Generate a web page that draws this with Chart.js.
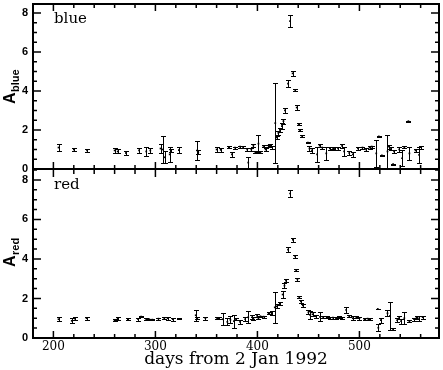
<!DOCTYPE html>
<html><head><meta charset="utf-8">
<script src="https://cdn.jsdelivr.net/npm/chart.js@4"></script>
<style>
html,body{margin:0;padding:0;background:#fff;}
#wrap{position:relative;width:443px;height:370px;background:#fff;}
canvas{position:absolute;left:0;top:0;}
</style></head><body>
<div id="wrap">
<canvas id="cTop" width="443" height="370"></canvas>
<canvas id="cBot" width="443" height="370"></canvas>
</div>
<script>
// ---------- data ----------
const blueDays = [205,220,233,260,263,271,284,291,295,305,307,309,314,315,323,341,342,360,364,372,375,378,383,386,390,391,394,396,398,401,403,406,408,411,412,414,417.5,419,420.5,422,424,425.5,427,430,432,434.5,437,438.5,440.5,441.5,443.5,449.5,451,453.5,458.5,461,463.5,467.5,471,474,476,479,483,485,490,493.5,498.5,503,506.5,510,512,516.5,519,522,527.5,528.5,531,533,534,539,541.8,544,548,549,555,558.5,560.5];
const blueVals = [1.10,1.00,0.95,0.95,0.90,0.82,0.95,0.90,0.95,1.05,1.00,0.60,0.75,0.95,0.97,0.95,0.85,1.00,0.98,1.12,0.75,1.10,1.15,1.12,1.00,0.33,1.00,1.20,0.85,1.30,0.88,1.18,1.00,1.20,1.22,1.12,2.35,1.62,1.85,2.00,2.20,2.45,3.00,4.37,7.58,4.90,4.05,3.15,2.30,2.00,1.70,1.35,1.05,0.95,0.75,1.20,1.10,0.80,1.05,1.08,1.05,1.05,1.18,0.90,0.82,0.75,1.05,1.10,1.00,1.10,1.15,0.80,1.67,0.70,0.90,1.15,1.05,0.25,0.90,1.00,0.55,1.12,2.45,0.80,0.95,0.72,1.12];
const blueErrs = [0.20,0.10,0.08,0.12,0.10,0.12,0.12,0.25,0.12,0.25,0.70,0.30,0.38,0.10,0.17,0.50,0.10,0.12,0.10,0.06,0.13,0.05,0.05,0.04,0.06,0.30,0.10,0.06,0.05,0.42,0.05,0.06,0.10,0.05,0.05,0.08,2.05,0.08,0.10,0.12,0.15,0.12,0.12,0.17,0.30,0.13,0.05,0.15,0.04,0.06,0.06,0.04,0.15,0.12,0.38,0.06,0.05,0.33,0.08,0.05,0.06,0.08,0.08,0.25,0.10,0.13,0.08,0.05,0.08,0.10,0.05,0.70,0.02,0.02,0.86,0.10,0.10,0.02,0.06,0.12,0.40,0.06,0.02,0.33,0.10,0.40,0.08];

const redDays = [205,218,221,232.5,260,263,273,283,286,291,294,297,303,308.7,312,317,323,339.5,341,349,360.5,362,366,370.5,373.5,377,379,383,388,391,394.7,396,399.7,401,403,406,411,414,417,419,422,424.7,426.5,428,430,432,434.7,437,438,439.2,441,442.6,444.5,450,451.6,454,457,461.4,464.5,468,471,474,477,480,483,487,490,493.5,497,500,505,508,510,518,518.5,521,527.5,530,533,537,539,540.8,544,549,553.5,556,558.5,562];
const redVals = [0.95,0.87,0.98,1.00,0.90,0.97,0.95,0.95,1.08,0.95,0.95,0.93,0.98,1.00,1.00,0.95,0.97,1.15,1.00,1.00,1.00,1.00,0.95,0.82,0.92,0.85,0.95,0.82,0.95,1.05,1.05,1.00,1.12,1.00,1.10,1.08,1.25,1.25,1.55,1.60,1.75,2.20,2.65,2.90,4.47,7.31,4.97,4.13,3.43,2.97,2.07,1.85,1.65,1.30,1.17,1.20,1.10,1.07,1.05,1.05,1.02,1.03,1.00,1.05,1.02,1.42,1.10,1.00,1.05,1.00,0.95,0.98,0.95,1.47,0.52,0.90,1.25,1.12,0.45,0.90,1.05,0.85,1.00,0.85,0.95,1.05,1.00,1.05];
const redErrs = [0.10,0.12,0.07,0.07,0.06,0.07,0.05,0.07,0.03,0.04,0.03,0.03,0.05,0.05,0.08,0.07,0.03,0.27,0.06,0.07,0.04,0.05,0.30,0.17,0.17,0.33,0.05,0.10,0.10,0.30,0.10,0.08,0.07,0.05,0.03,0.05,0.05,0.10,0.80,0.10,0.06,0.17,0.13,0.09,0.14,0.17,0.09,0.08,0.06,0.07,0.07,0.08,0.08,0.10,0.20,0.10,0.08,0.23,0.04,0.05,0.04,0.05,0.05,0.05,0.05,0.17,0.05,0.10,0.05,0.07,0.05,0.05,0.05,0.02,0.19,0.12,0.15,0.72,0.05,0.10,0.08,0.12,0.30,0.05,0.07,0.08,0.12,0.07];

const xTickValues = [200, 300, 400, 500];
const yTickValues = [0, 2, 4, 6, 8];
const xMin = 180, xMax = 578;
const xMinorStep = 20, xMajorStep = 100;
const yMinorStep = 0.5, yMajorStep = 2;
const panelLabels = ['blue', 'red'];
const xTitle = 'days from 2 Jan 1992';

// ---------- plugins ----------
function seg(ctx, x1, y1, x2, y2) { ctx.moveTo(x1, y1); ctx.lineTo(x2, y2); }

const errorBars = {
  id: 'errorBars',
  beforeDatasetsDraw(chart) {
    const {ctx, chartArea: a, scales: {x, y}} = chart;
    ctx.save();
    ctx.beginPath(); ctx.rect(a.left, a.top, a.right - a.left, a.bottom - a.top); ctx.clip();
    ctx.strokeStyle = '#000'; ctx.lineWidth = 1;
    ctx.beginPath();
    chart.data.datasets[0].data.forEach(p => {
      const px = Math.round(x.getPixelForValue(p.x)) + 0.5;
      const y1 = Math.round(y.getPixelForValue(p.y - p.e)) + 0.5;
      const y2 = Math.round(y.getPixelForValue(p.y + p.e)) + 0.5;
      seg(ctx, px, y1, px, y2);
      seg(ctx, px - 2.5, y1, px + 2.5, y1);
      seg(ctx, px - 2.5, y2, px + 2.5, y2);
    });
    ctx.stroke();
    ctx.restore();
  }
};

const frameTicks = {
  id: 'frameTicks',
  afterDraw(chart, args, opts) {
    const {ctx, chartArea: a, scales: {x, y}} = chart;
    ctx.save();
    ctx.strokeStyle = '#000';
    ctx.lineWidth = 1.5;
    ctx.beginPath();
    for (let v = 0; v <= y.max + 1e-9; v += yMinorStep) {
      const py = y.getPixelForValue(v);
      const major = Math.abs(v / yMajorStep - Math.round(v / yMajorStep)) < 1e-6;
      const len = major ? 8 : 4;
      seg(ctx, a.left, py, a.left + len, py);
      seg(ctx, a.right, py, a.right - len, py);
    }
    for (let d = xMin; d <= xMax; d += xMinorStep) {
      const px = x.getPixelForValue(d);
      const major = d % xMajorStep === 0;
      const len = major ? 7 : 4;
      seg(ctx, px, a.bottom, px, a.bottom - len);
      seg(ctx, px, a.top, px, a.top + len);
    }
    ctx.stroke();
    ctx.lineWidth = 2;
    ctx.beginPath();
    if (opts.drawTop) seg(ctx, a.left - 1, a.top, a.right + 1, a.top);
    seg(ctx, a.left - 1, a.bottom, a.right + 1, a.bottom);
    seg(ctx, a.left, a.top, a.left, a.bottom);
    seg(ctx, a.right, a.top, a.right, a.bottom);
    ctx.stroke();
    ctx.restore();
  }
};

const panelText = {
  id: 'panelText',
  afterDraw(chart, args, opts) {
    const {ctx, chartArea: a} = chart;
    ctx.save();
    ctx.fillStyle = '#000';
    ctx.textBaseline = 'alphabetic';
    ctx.font = '15px "DejaVu Serif"';
    ctx.fillText(opts.label, a.left + 21, a.top + 19);
    // rotated y title: A with subscript
    const cy = (a.top + a.bottom) / 2 + opts.titleShift;
    ctx.translate(15, cy);
    ctx.rotate(-Math.PI / 2);
    ctx.font = 'bold 16px "Liberation Sans"';
    ctx.fillText('A', 0, 0);
    const w = ctx.measureText('A').width;
    ctx.font = 'bold 11px "Liberation Sans"';
    ctx.fillText(opts.sub, w + 0.5, 3.5);
    ctx.restore();
  }
};

function makeData(days, vals, errs) {
  return days.map((d, i) => ({x: d, y: vals[i], e: errs[i]}));
}

function makeChart(id, days, vals, errs, yMax, padding, showX, label, titleShift, drawTop) {
  return new Chart(document.getElementById(id), {
    type: 'scatter',
    data: {datasets: [{
      data: makeData(days, vals, errs),
      pointRadius: 1.2, pointStyle: 'rect',
      backgroundColor: '#000', borderColor: '#000', borderWidth: 0,
      showLine: false
    }]},
    options: {
      responsive: false, animation: false, events: [],
      layout: {padding},
      plugins: {legend: {display: false}, tooltip: {enabled: false},
        panelText: {label, sub: label, titleShift},
        frameTicks: {drawTop}},
      scales: {
        x: {
          type: 'linear', min: xMin, max: xMax, display: showX,
          afterBuildTicks: s => { s.ticks = xTickValues.map(v => ({value: v})); },
          afterFit: s => { s.height = showX ? 32 : 0; s.paddingLeft = 0; s.paddingRight = 0; },
          grid: {display: false, drawTicks: false}, border: {display: false},
          ticks: {padding: 2, autoSkip: false, maxRotation: 0, color: '#000',
            font: {family: 'DejaVu Serif', size: 12}},
          title: {display: true, text: xTitle, color: '#000', padding: {top: 0, bottom: 0},
            font: {family: 'DejaVu Serif', size: 17}}
        },
        y: {
          type: 'linear', min: 0, max: yMax,
          afterBuildTicks: s => { s.ticks = yTickValues.map(v => ({value: v})); },
          afterFit: s => { s.width = 33; s.paddingTop = 0; s.paddingBottom = 0; },
          grid: {display: false, drawTicks: false}, border: {display: false},
          ticks: {padding: 5, color: '#000', font: {family: 'Liberation Sans', size: 11, weight: 'bold'}}
        }
      }
    },
    plugins: [errorBars, frameTicks, panelText]
  });
}

makeChart('cTop', blueDays, blueVals, blueErrs, 8.455, {left: 0, top: 2, right: 1, bottom: 201}, false, panelLabels[0], 17.5, true);
makeChart('cBot', redDays, redVals, redErrs, 8.5, {left: 0, top: 170, right: 1, bottom: 0}, true, panelLabels[1], 13, false);
</script>
</body></html>
